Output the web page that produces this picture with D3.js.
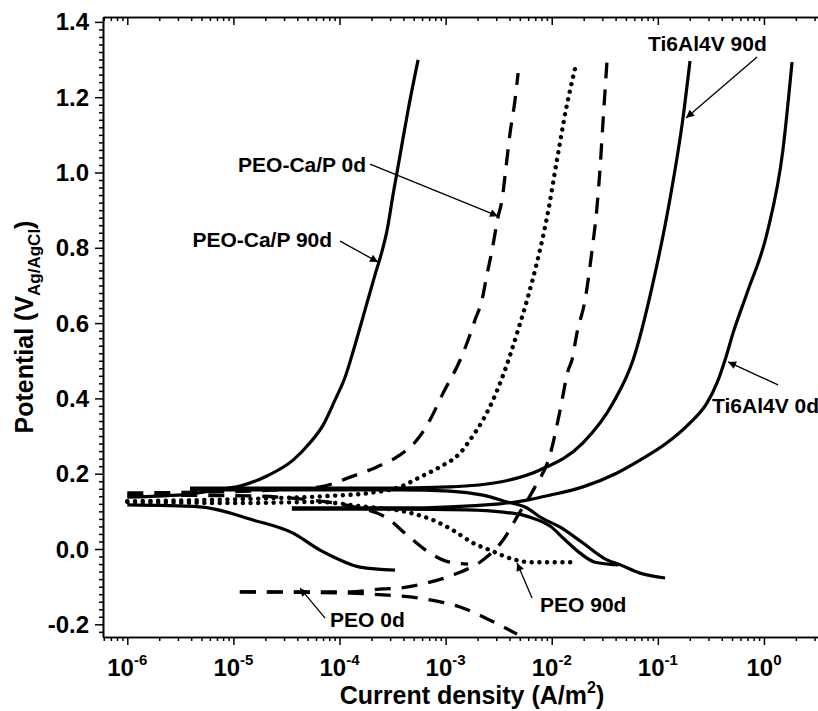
<!DOCTYPE html>
<html><head><meta charset="utf-8">
<script src="https://cdn.jsdelivr.net/npm/d3@7"></script>
<style>
body{margin:0;background:#fff}
svg{display:block;background:#fff}
text{font-family:"Liberation Sans",Arial,Helvetica,sans-serif;font-weight:bold;fill:#000}
</style>
</head><body>
<svg id="chart" width="818" height="711"></svg>
<script>
// ---------------- DATA (current density in A/m^2, potential in V vs Ag/AgCl) ----------------
const currentTicks = [1e-6, 1e-5, 1e-4, 1e-3, 1e-2, 1e-1, 1e0];
const currentTickExponents = ["-6", "-5", "-4", "-3", "-2", "-1", "0"];
const potentialTicks = [-0.2, 0.0, 0.2, 0.4, 0.6, 0.8, 1.0, 1.2, 1.4];

const peoCaP90dAnodic = [[1.0e-6,0.138],[3.9e-6,0.146],[7.0e-6,0.157],[1.15e-5,0.167],[2.07e-5,0.194],[3.65e-5,0.236],[5.27e-5,0.282],[7.0e-5,0.329],[9.08e-5,0.396],[1.13e-4,0.457],[1.40e-4,0.542],[1.74e-4,0.635],[2.16e-4,0.728],[2.46e-4,0.781],[2.81e-4,0.847],[3.19e-4,0.940],[3.72e-4,1.046],[4.43e-4,1.166],[5.5e-4,1.299]];
const peoCaP90dCathodic = [[1.0e-6,0.117],[4.8e-6,0.112],[1.53e-5,0.077],[3.65e-5,0.042],[6.55e-5,-0.003],[1.01e-4,-0.029],[1.56e-4,-0.048],[3.33e-4,-0.056]];

const peoCaP0dAnodic = [[1.0e-6,0.149],[4.8e-6,0.151],[1.43e-5,0.154],[6.55e-5,0.165],[1.26e-4,0.191],[2.25e-4,0.218],[3.72e-4,0.250],[5.38e-4,0.290],[7.13e-4,0.343],[9.46e-4,0.414],[1.37e-3,0.502],[1.63e-3,0.555],[1.89e-3,0.608],[2.20e-3,0.661],[2.45e-3,0.728],[2.74e-3,0.794],[3.12e-3,0.882],[3.40e-3,0.927],[3.71e-3,1.015],[4.05e-3,1.105],[4.51e-3,1.193],[4.82e-3,1.264]];
const peoCaP0dCathodic = [[1.0e-6,0.143],[1.43e-5,0.141],[4.25e-5,0.133],[1.26e-4,0.114],[2.81e-4,0.082],[4.33e-4,0.037],[7.13e-4,-0.011],[1.10e-3,-0.035],[1.63e-3,-0.040]];

const peo90dAnodic = [[1.0e-6,0.127],[1.43e-5,0.133],[8.1e-5,0.141],[1.94e-4,0.149],[3.72e-4,0.165],[5.74e-4,0.191],[8.85e-4,0.218],[1.37e-3,0.255],[1.77e-3,0.297],[2.25e-3,0.343],[2.80e-3,0.396],[3.40e-3,0.454],[4.05e-3,0.515],[4.82e-3,0.582],[5.85e-3,0.661],[7.27e-3,0.762],[9.04e-3,0.882],[1.12e-2,1.033],[1.36e-2,1.166],[1.69e-2,1.286]];
const peo90dCathodic = [[1.0e-6,0.125],[1.43e-5,0.122],[6.14e-5,0.125],[1.56e-4,0.114],[4.62e-4,0.096],[7.6e-4,0.077],[1.17e-3,0.050],[1.81e-3,0.016],[2.62e-3,-0.003],[4.32e-3,-0.027],[6.24e-3,-0.035],[1.55e-2,-0.035]];

const peo0dAnodic = [[1.15e-5,-0.114],[4.25e-5,-0.114],[1.26e-4,-0.114],[2.57e-4,-0.106],[3.56e-4,-0.104],[7.13e-4,-0.088],[1.31e-3,-0.064],[2.25e-3,-0.029],[3.48e-3,0.024],[4.82e-3,0.090],[6.96e-3,0.165],[9.64e-3,0.250],[1.20e-2,0.369],[1.43e-2,0.475],[1.55e-2,0.502],[1.73e-2,0.574],[2.06e-2,0.661],[2.40e-2,0.794],[2.67e-2,0.908],[2.86e-2,1.015],[3.05e-2,1.139],[3.32e-2,1.296]];
const peo0dCathodic = [[1.15e-5,-0.114],[1.26e-4,-0.117],[2.57e-4,-0.122],[3.72e-4,-0.125],[7.13e-4,-0.135],[1.37e-3,-0.154],[2.62e-3,-0.189],[4.71e-3,-0.226]];

const ti90dAnodic = [[3.9e-6,0.162],[4.25e-5,0.162],[3.72e-4,0.162],[1.10e-3,0.165],[3.26e-3,0.178],[7.76e-3,0.210],[1.97e-2,0.282],[3.78e-2,0.388],[5.84e-2,0.502],[9.0e-2,0.707],[0.130,0.929],[0.173,1.147],[0.201,1.296]];
const ti90dCathodic = [[3.9e-6,0.157],[4.25e-5,0.157],[3.72e-4,0.157],[1.10e-3,0.154],[2.25e-3,0.143],[3.79e-3,0.125],[5.85e-3,0.109],[7.76e-3,0.085],[1.20e-2,0.058],[1.97e-2,0.016],[3.32e-2,-0.029],[4.41e-2,-0.042],[6.79e-2,-0.064],[0.117,-0.077]];

const ti0dAnodic = [[3.56e-5,0.109],[3.72e-4,0.109],[3.26e-3,0.120],[5.85e-3,0.130],[9.64e-3,0.143],[1.97e-2,0.165],[4.13e-2,0.202],[6.79e-2,0.236],[0.122,0.282],[0.201,0.335],[0.291,0.388],[0.361,0.441],[0.430,0.502],[0.512,0.574],[0.693,0.680],[1.07,0.839],[1.51,1.060],[1.84,1.293]];
const ti0dCathodic = [[3.56e-5,0.106],[3.72e-4,0.106],[1.59e-3,0.104],[3.48e-3,0.098],[5.37e-3,0.090],[6.66e-3,0.082],[9.64e-3,0.061],[1.34e-2,0.024],[1.85e-2,-0.011],[2.56e-2,-0.035],[4.22e-2,-0.042]];

const seriesNames = ["PEO-Ca/P 90d", "PEO-Ca/P 0d", "PEO 90d", "PEO 0d", "Ti6Al4V 90d", "Ti6Al4V 0d"];
const seriesBranches = [
  [peoCaP90dAnodic, peoCaP90dCathodic],
  [peoCaP0dAnodic, peoCaP0dCathodic],
  [peo90dAnodic, peo90dCathodic],
  [peo0dAnodic, peo0dCathodic],
  [ti90dAnodic, ti90dCathodic],
  [ti0dAnodic, ti0dCathodic]
];
const seriesStyles = ["solid", "dashed", "dotted", "dashed", "solid", "solid"];

// annotation: label, arrow tip (data coords: current, potential)
const annotationLabels = ["PEO-Ca/P 0d", "PEO-Ca/P 90d", "Ti6Al4V 90d", "Ti6Al4V 0d", "PEO 90d", "PEO 0d"];
const annotationTips = [[3.12e-3,0.884],[2.31e-4,0.762],[0.1845,1.145],[0.459,0.497],[4.71e-3,-0.037],[4.25e-5,-0.104]];

// ---------------- LAYOUT ----------------
const W = 818, H = 711;
const plot = {left: 103, top: 17, right: 850, bottom: 637};
const svg = d3.select("#chart");

const x = d3.scaleLog().domain([Math.pow(10,-6.229), Math.pow(10,0.811)]).range([plot.left, plot.right]);
const y = d3.scaleLinear().domain([-0.2337, 1.413]).range([plot.bottom, plot.top]);

const styleMap = {
  solid:  {dash: null, width: 3.2, cap: "butt"},
  dashed: {dash: "16,11", width: 3.3, cap: "butt"},
  dotted: {dash: "0.1,7.6", width: 4.4, cap: "round"}
};

const defs = svg.append("defs");
defs.append("clipPath").attr("id","clip")
  .append("rect").attr("x",plot.left).attr("y",plot.top)
  .attr("width",plot.right-plot.left).attr("height",plot.bottom-plot.top);
defs.append("marker").attr("id","arrow")
  .attr("viewBox","0 0 10 10").attr("refX",10).attr("refY",5)
  .attr("markerWidth",11).attr("markerHeight",8).attr("markerUnits","userSpaceOnUse")
  .attr("orient","auto")
  .append("path").attr("d","M0,0 L10,5 L0,10 z").attr("fill","#000");

// curves
const line = d3.line().x(d => x(d[0])).y(d => y(d[1])).curve(d3.curveMonotoneX);
const gCurves = svg.append("g").attr("clip-path","url(#clip)");
seriesBranches.forEach((branches, i) => {
  const st = styleMap[seriesStyles[i]];
  branches.forEach(br => {
    gCurves.append("path").datum(br)
      .attr("d", line)
      .attr("fill","none").attr("stroke","#000")
      .attr("stroke-width", st.width)
      .attr("stroke-linecap", st.cap)
      .attr("stroke-linejoin","round")
      .attr("stroke-dasharray", st.dash);
  });
});

// ---------------- AXES ----------------
const minorX = [];
for (let e = -7; e <= 0; e++) for (let m = 2; m <= 9; m++) {
  const v = m * Math.pow(10, e);
  if (v > x.domain()[0] && v < x.domain()[1]) minorX.push(v);
}
const minorY = d3.range(-22, 71).map(k => k * 0.02).filter(v => v > y.domain()[0] && v < y.domain()[1] && Math.abs(Math.round(v*5) - v*5) > 1e-6);

function styleAxis(g){
  g.select(".domain").attr("stroke","#000").attr("stroke-width",1.6);
  g.selectAll(".tick line").attr("stroke","#000").attr("stroke-width",1.5);
}
// bottom (outward)
svg.append("g").attr("transform",`translate(0,${plot.bottom})`)
  .call(d3.axisBottom(x).tickValues(currentTicks).tickSize(8).tickFormat("").tickSizeOuter(0))
  .call(styleAxis);
svg.append("g").attr("transform",`translate(0,${plot.bottom})`)
  .call(d3.axisBottom(x).tickValues(minorX).tickSize(4).tickFormat("").tickSizeOuter(0))
  .call(styleAxis);
// top (inward)
svg.append("g").attr("transform",`translate(0,${plot.top})`)
  .call(d3.axisBottom(x).tickValues(currentTicks).tickSize(8).tickFormat("").tickSizeOuter(0))
  .call(styleAxis);
svg.append("g").attr("transform",`translate(0,${plot.top})`)
  .call(d3.axisBottom(x).tickValues(minorX).tickSize(4).tickFormat("").tickSizeOuter(0))
  .call(styleAxis);
// left (outward)
const fmt = d => d3.format(".1f")(d).replace("\u2212","-");
svg.append("g").attr("transform",`translate(${plot.left},0)`)
  .call(d3.axisLeft(y).tickValues(potentialTicks).tickSize(8).tickFormat("").tickSizeOuter(0))
  .call(styleAxis);
svg.append("g").attr("transform",`translate(${plot.left},0)`)
  .call(d3.axisLeft(y).tickValues(minorY).tickSize(4).tickFormat("").tickSizeOuter(0))
  .call(styleAxis);

// y tick labels
svg.append("g").selectAll("text").data(potentialTicks).join("text")
  .attr("x", plot.left - 14).attr("y", d => y(d) + 8.5)
  .attr("text-anchor","end").attr("font-size",24)
  .text(fmt);

// x tick labels: 10^n
const xl = svg.append("g").selectAll("text").data(currentTicks).join("text")
  .attr("x", d => x(d)).attr("y", plot.bottom + 39)
  .attr("text-anchor","middle").attr("font-size",24);
xl.append("tspan").text("10");
xl.append("tspan").attr("font-size",15).attr("dy",-11).text((d,i) => currentTickExponents[i]);

// axis titles
const xt = svg.append("text").attr("x", 472).attr("y", 704).attr("text-anchor","middle").attr("font-size",25);
xt.append("tspan").text("Current density (A/m");
xt.append("tspan").attr("font-size",16).attr("dy",-11).text("2");
xt.append("tspan").attr("dy",11).text(")");

const yt = svg.append("text").attr("transform","translate(33,327) rotate(-90)").attr("text-anchor","middle").attr("font-size",25);
yt.append("tspan").text("Potential (V");
yt.append("tspan").attr("font-size",17).attr("dy",7).text("Ag/AgCl");
yt.append("tspan").attr("dy",-7).text(")");

// ---------------- ANNOTATIONS ----------------
const annOffsets = [[-128,-52],[-38,-21],[71,-61],[50,23],[15,35],[25,30]];      // arrow tail offset from tip (px)
const annText = [[-4,8,"end"],[-8,6,"end"],[-109,-6,"start"],[-66,28,"start"],[8,14,"start"],[5,9,"start"]]; // text pos relative to tail
const gAnn = svg.append("g");
annotationLabels.forEach((lab, i) => {
  const tx = x(annotationTips[i][0]), ty = y(annotationTips[i][1]);
  const sx = tx + annOffsets[i][0], sy = ty + annOffsets[i][1];
  gAnn.append("line").attr("x1",sx).attr("y1",sy).attr("x2",tx).attr("y2",ty)
    .attr("stroke","#000").attr("stroke-width",1.3).attr("marker-end","url(#arrow)");
  gAnn.append("text").attr("x", sx + annText[i][0]).attr("y", sy + annText[i][1])
    .attr("text-anchor", annText[i][2]).attr("font-size",21).text(lab);
});
</script>
</body></html>
